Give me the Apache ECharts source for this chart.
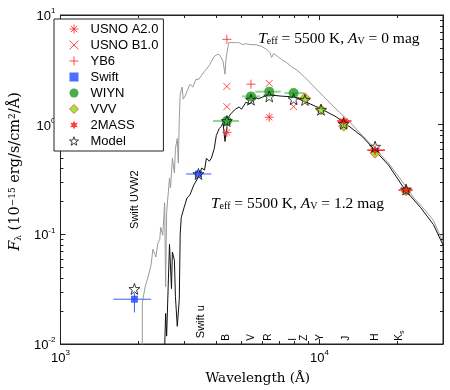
<!DOCTYPE html>
<html>
<head>
<meta charset="utf-8">
<script src="https://cdn.jsdelivr.net/npm/echarts@6/dist/echarts.min.js"></script>
<style>
  html, body { margin: 0; padding: 0; background: #fff; }
  #chart { width: 450px; height: 390px; }
</style>
</head>
<body>
<div id="chart"></div>
<script>
// model spectra, [wavelength (A), F_lambda]
const modelAv0 = [
  [2070, 0.0092], [2070, 0.024], [2124, 0.0333], [2180, 0.041], [2238, 0.0526], [2275, 0.0733],
  [2336, 0.0621], [2377, 0.083], [2418, 0.090], [2438, 0.116], [2483, 0.098], [2525, 0.194],
  [2547, 0.0333], [2570, 0.158], [2636, 0.327], [2660, 0.265], [2705, 0.494], [2754, 0.362],
  [2779, 0.608], [2825, 0.748], [2851, 0.446], [2876, 1.13], [2899, 1.90], [2951, 2.20],
  [2977, 1.71], [3029, 1.82], [3081, 2.02], [3162, 2.34], [3246, 2.20], [3333, 2.59],
  [3418, 2.59], [3508, 2.82], [3600, 3.07], [3661, 3.20], [3758, 3.47], [3826, 3.78],
  [3926, 4.19], [4027, 4.36], [4100, 4.36], [4171, 4.10], [4244, 3.78], [4318, 2.88],
  [4355, 3.94], [4435, 5.15], [4467, 5.60], [4550, 5.60], [4624, 5.71], [4749, 5.60],
  [4875, 5.60], [5047, 5.37], [5176, 5.48], [5408, 5.37], [5649, 5.37], [5847, 5.26],
  [5999, 5.15], [6267, 4.84], [6431, 4.55], [6541, 4.10], [6656, 4.46], [6890, 4.19],
  [7129, 3.94], [7450, 3.70], [7780, 3.40], [8200, 3.13], [8710, 2.76], [9490, 2.24],
  [10350, 1.82], [11590, 1.39], [13080, 1.06], [14640, 0.796], [16380, 0.608],
  [18480, 0.446], [20680, 0.313], [23160, 0.215], [25700, 0.164], [27540, 0.134], [30000, 0.085]
];
const modelAv12 = [
  [2525, 0.0092], [2547, 0.019], [2570, 0.0118], [2636, 0.081], [2683, 0.032], [2705, 0.069],
  [2754, 0.058], [2779, 0.027], [2825, 0.0145], [2876, 0.0254], [2899, 0.100], [2926, 0.142],
  [3000, 0.175], [3081, 0.215], [3162, 0.229], [3273, 0.282], [3360, 0.313], [3418, 0.340],
  [3508, 0.402], [3600, 0.386], [3661, 0.494], [3758, 0.464], [3826, 0.494], [3926, 0.608],
  [3997, 0.796], [4100, 0.92], [4171, 0.96], [4244, 1.04], [4318, 0.703], [4395, 0.96],
  [4467, 1.18], [4550, 1.26], [4749, 1.39], [4900, 1.45], [5000, 1.38], [5200, 1.60],
  [5400, 1.55], [5649, 1.79], [5800, 1.72], [6152, 1.82], [6541, 1.86], [7129, 1.82],
  [7980, 1.79], [8710, 1.64], [10180, 1.39], [11590, 1.18], [12640, 1.02], [14640, 0.78],
  [16380, 0.583], [18480, 0.428], [21420, 0.254], [24600, 0.175], [27540, 0.123], [30000, 0.080]
];

// photometry, [wavelength, flux]
const usnoA2 = [[4390, 0.85], [6400, 1.17]];
const usnoB1 = [[4390, 2.23], [4390, 1.46], [6400, 2.38], [7950, 1.46]];
const yb6 = [[4390, 6.0], [5440, 2.34]];
const swift = [[1930, 0.0256], [3410, 0.355]];
const wiyn = [[4390, 1.08], [5440, 1.81], [6400, 2.0], [7950, 1.94]];
const vvv = [[8790, 1.76], [10140, 1.37], [12400, 0.97], [16400, 0.55], [21600, 0.25]];
const twoMass = [[12400, 1.08], [16400, 0.585], [21600, 0.253]];
const model = [
  [1930, 0.0318], [3410, 0.355], [4390, 1.08], [5440, 1.69], [6400, 1.81], [7950, 1.71],
  [8790, 1.68], [10140, 1.37], [12400, 1.02], [16400, 0.63], [21600, 0.256]
];

// error bars, [wavelength, flux, wave low, wave high, flux low, flux high]
const swiftErr = [[1930, 0.0256, 1600, 2240, 0.0194, 0.029], [3410, 0.355, 3055, 3828, 0.355, 0.355]];
const wiynErr = [
  [4390, 1.08, 3880, 4890, 1.08, 1.08], [5440, 1.81, 5030, 5900, 1.81, 1.81],
  [6400, 2.0, 5650, 7090, 2.0, 2.0], [7950, 1.94, 7330, 8710, 1.94, 1.94]
];
const vvvErr = [[8790, 1.76, 8400, 9200, 1.76, 1.76]];
const twoMassErr = [
  [12400, 1.08, 11700, 13300, 1.08, 1.08], [16400, 0.585, 15300, 17900, 0.585, 0.585],
  [21600, 0.253, 20200, 22900, 0.253, 0.253]
];

// filter names along the bottom, [wavelength, flux of text foot]
const bandNames = ["B", "V", "R", "I", "Z", "Y", "J", "H", "{b|K}{bs|s}", "{w|Swift UVW2}", "{w|Swift u}"];
const bandPos = [
  [4375, 0.0107], [5433, 0.0107], [6340, 0.0107], [7940, 0.0107], [8730, 0.0107], [10090, 0.0107],
  [12650, 0.0107], [16400, 0.0107], [20300, 0.0107], [1947, 0.112], [3480, 0.0113]
];

// model labels
const noteTexts = [
  "{i|T}{sub|eff}{n| = 5500 K, }{i|A}{sub|V}{n| = 0 mag}",
  "{i|T}{sub|eff}{n| = 5500 K, }{i|A}{sub|V}{n| = 1.2 mag}"
];
const notePos = [[5800, 6.08], [3811, 0.19]];
const noteColors = ["#999999", "#000000"];

const xTickLabels = [1000, 10000];
const yTickLabels = [0.01, 0.1, 1, 10];

const SANS = "Liberation Sans";
const SERIF = "DejaVu Serif";
const NOTE_SERIF = "Liberation Serif";

const symAsterisk = "path://M0,-5L0,5M-5,0L5,0M-3.5,-3.5L3.5,3.5M-3.5,3.5L3.5,-3.5";
const symCross = "path://M-4,-4L4,4M-4,4L4,-4";
const symPlus = "path://M0,-5L0,5M-5,0L5,0";
const symStar5 = "path://M0,-10L2.35,-3.24L9.51,-3.09L3.8,1.24L5.88,8.09L0,4L-5.88,8.09L-3.8,1.24L-9.51,-3.09L-2.35,-3.24Z";
const symStar6 = "path://M0,-10L2.5,-4.33L8.66,-5L5,0L8.66,5L2.5,4.33L0,10L-2.5,4.33L-8.66,5L-5,0L-8.66,-5L-2.5,-4.33Z";

const RED = "#ff2020";
const strokeOnly = { color: "rgba(0,0,0,0)", borderColor: RED, borderWidth: 1 };

const powerLabel = v => {
  const e = Math.log10(v);
  if (Math.abs(e - Math.round(e)) > 1e-6) return "";
  return "{b|10}{s|" + Math.round(e) + "}";
};
const tickRich = {
  b: { fontFamily: SANS, fontSize: 13, color: "#000", padding: [3, 0, 0, 0] },
  s: { fontFamily: SANS, fontSize: 8, color: "#000", verticalAlign: "top" }
};

const errRender = (color, width) => (params, api) => {
  const x = api.value(0), y = api.value(1);
  const a = api.coord([api.value(2), y]), b = api.coord([api.value(3), y]);
  const c = api.coord([x, api.value(4)]), d = api.coord([x, api.value(5)]);
  return {
    type: "group",
    children: [
      { type: "line", shape: { x1: a[0], y1: a[1], x2: b[0], y2: b[1] }, style: { stroke: color, lineWidth: width } },
      { type: "line", shape: { x1: c[0], y1: c[1], x2: d[0], y2: d[1] }, style: { stroke: color, lineWidth: width } }
    ]
  };
};

const errSeries = (data, color, width) => ({
  type: "custom",
  data,
  encode: { x: 0, y: 1 },
  renderItem: errRender(color, width),
  silent: true,
  z: 3
});

// minor ticks of the log axes, drawn inward on all four sides
const minorTicks = (params, api) => {
  const cs = params.coordSys;
  const kids = [];
  const st = { stroke: "#222", lineWidth: 1 };
  for (let d = 1000; d < 30000; d *= 10) {
    for (let m = 2; m <= 9; m++) {
      const v = d * m;
      if (v >= 30000) break;
      const px = Math.round(api.coord([v, 1])[0]) + 0.5;
      kids.push({ type: "line", shape: { x1: px, y1: cs.y + cs.height, x2: px, y2: cs.y + cs.height - 3 }, style: st });
      kids.push({ type: "line", shape: { x1: px, y1: cs.y, x2: px, y2: cs.y + 3 }, style: st });
    }
  }
  for (let d = 0.01; d < 10; d *= 10) {
    for (let m = 2; m <= 9; m++) {
      const py = Math.round(api.coord([2000, d * m])[1]) + 0.5;
      kids.push({ type: "line", shape: { x1: cs.x, y1: py, x2: cs.x + 3, y2: py }, style: st });
      kids.push({ type: "line", shape: { x1: cs.x + cs.width, y1: py, x2: cs.x + cs.width - 3, y2: py }, style: st });
    }
  }
  return { type: "group", children: kids };
};

const textRich = color => ({
  n: { fontFamily: NOTE_SERIF, fontSize: 15.5, color },
  i: { fontFamily: NOTE_SERIF, fontStyle: "italic", fontSize: 15.5, color },
  sub: { fontFamily: NOTE_SERIF, fontSize: 10, color, verticalAlign: "bottom", padding: [6, 0, 0, 0] }
});

const chart = echarts.init(document.getElementById("chart"));

const xAxisBase = {
  type: "log",
  logBase: 10,
  min: 1000,
  max: 30000,
  axisLine: { lineStyle: { color: "#222", width: 1 } },
  axisTick: { inside: true, length: 5, lineStyle: { color: "#222" } },
  splitLine: { show: false }
};
const yAxisBase = {
  type: "log",
  logBase: 10,
  min: 0.01,
  max: 10,
  axisLine: { show: true, lineStyle: { color: "#222", width: 1 } },
  axisTick: { show: true, inside: true, length: 5, lineStyle: { color: "#222" } },
  splitLine: { show: false }
};

const option = {
  animation: false,
  backgroundColor: "#fff",
  grid: { left: 49, top: 15, width: 394, height: 334, show: true, borderColor: "#222", borderWidth: 1 },
  legend: {
    data: [
      { name: "USNO A2.0", itemStyle: strokeOnly },
      { name: "USNO B1.0", itemStyle: strokeOnly },
      { name: "YB6", itemStyle: strokeOnly },
      { name: "Swift", itemStyle: { color: "#1f4cff", borderWidth: 0 } },
      { name: "WIYN", itemStyle: { color: "#1e9a1e", borderWidth: 0 } },
      { name: "VVV", itemStyle: { color: "#7ee020", borderColor: "#ff5010", borderWidth: 1 } },
      { name: "2MASS", itemStyle: { color: "#ff1010", borderWidth: 0 } },
      { name: "Model", itemStyle: { color: "#ffffff", borderColor: "#111", borderWidth: 1 } }
    ],
    orient: "vertical",
    left: 54,
    top: 19,
    padding: [3, 5, 3, 15],
    itemWidth: 9,
    itemHeight: 9,
    itemGap: 2,
    backgroundColor: "#fff",
    borderColor: "#222",
    borderWidth: 1,
    borderRadius: 0,
    textStyle: { fontFamily: SANS, fontSize: 13, lineHeight: 14, color: "#000", padding: [0, 0, 0, 7] }
  },
  xAxis: [
    Object.assign({}, xAxisBase, {
      position: "bottom",
      axisLabel: {
        margin: 5,
        formatter: v => (xTickLabels.some(t => Math.abs(t - v) < 1e-6 * t) ? powerLabel(v) : ""),
        rich: tickRich
      },
      name: "Wavelength (Å)",
      nameLocation: "middle",
      nameGap: 27,
      nameTextStyle: { fontFamily: SERIF, fontSize: 13.5, color: "#000", padding: [0, 0, 0, 12] }
    }),
    Object.assign({}, xAxisBase, { position: "top", axisLabel: { show: false } })
  ],
  yAxis: [
    Object.assign({}, yAxisBase, {
      position: "left",
      axisLabel: {
        margin: 5,
        formatter: v => (yTickLabels.some(t => Math.abs(t - v) < 1e-6 * t) ? powerLabel(v) : ""),
        rich: tickRich
      },
      name: "{i|F}{sub|λ}{n| (10}{sup|−15}{n| erg/s/cm}{sup|2}{n|/Å)}",
      nameLocation: "middle",
      nameGap: 35,
      nameTextStyle: {
        padding: [0, 0, 0, 16],
        rich: {
          n: { fontFamily: SERIF, fontSize: 14.5, color: "#000" },
          i: { fontFamily: SERIF, fontStyle: "italic", fontSize: 14.5, color: "#000" },
          sub: { fontFamily: SERIF, fontSize: 9, color: "#000", verticalAlign: "bottom", padding: [5, 0, 0, 0] },
          sup: { fontFamily: SERIF, fontSize: 9, color: "#000", verticalAlign: "top", padding: [0, 0, 5, 0] }
        }
      }
    }),
    Object.assign({}, yAxisBase, { position: "right", axisLabel: { show: false } })
  ],
  series: [
    {
      name: "AV0", type: "line", data: modelAv0, showSymbol: false, symbol: "none",
      lineStyle: { color: "#9a9a9a", width: 1 }, silent: true, z: 1
    },
    {
      name: "AV12", type: "line", data: modelAv12, showSymbol: false, symbol: "none",
      lineStyle: { color: "#111", width: 1 }, silent: true, z: 1
    },
    { type: "custom", data: [[2000, 1]], encode: { x: 0, y: 1 }, renderItem: minorTicks, silent: true, z: 2 },
    errSeries(swiftErr, "#3a5cff", 1),
    errSeries(wiynErr, "#8fd48f", 2),
    errSeries(vvvErr, "#ff3030", 1),
    errSeries(twoMassErr, RED, 1.5),
    { name: "USNO A2.0", type: "scatter", data: usnoA2, symbol: symAsterisk, symbolSize: 9, itemStyle: strokeOnly, z: 4 },
    { name: "USNO B1.0", type: "scatter", data: usnoB1, symbol: symCross, symbolSize: 7, itemStyle: strokeOnly, z: 4 },
    { name: "YB6", type: "scatter", data: yb6, symbol: symPlus, symbolSize: 9, itemStyle: strokeOnly, z: 4 },
    {
      name: "Swift", type: "scatter", data: swift, symbol: "rect", symbolSize: 7,
      itemStyle: { color: "#1f4cff" }, z: 4
    },
    {
      name: "WIYN", type: "scatter", data: wiyn, symbol: "circle", symbolSize: 10,
      itemStyle: { color: "#1e9a1e" }, z: 4
    },
    {
      name: "VVV", type: "scatter", data: vvv, symbol: "diamond", symbolSize: 10,
      itemStyle: { color: "#7ee020", borderColor: "#ff5010", borderWidth: 1 }, z: 5
    },
    {
      name: "2MASS", type: "scatter", data: twoMass, symbol: symStar6, symbolSize: 10,
      itemStyle: { color: "#ff1010" }, z: 5
    },
    {
      name: "Model", type: "scatter", data: model, symbol: symStar5, symbolSize: 11,
      itemStyle: { color: "rgba(255,255,255,0)", borderColor: "#111", borderWidth: 1 }, z: 6
    },
    {
      type: "custom",
      data: bandPos.map((p, i) => [p[0], p[1], i]),
      encode: { x: 0, y: 1 },
      silent: true,
      z: 7,
      renderItem: (params, api) => {
        const p = api.coord([api.value(0), api.value(1)]);
        return {
          type: "text",
          x: p[0],
          y: p[1],
          rotation: Math.PI / 2,
          style: {
            text: bandNames[api.value(2)],
            fontFamily: SANS,
            fontSize: 10,
            fill: "#000",
            align: "left",
            verticalAlign: "middle",
            rich: {
              b: { fontFamily: SANS, fontSize: 10, color: "#000" },
              bs: { fontFamily: SANS, fontSize: 7, color: "#000", verticalAlign: "bottom", padding: [5, 0, 0, 0] },
              w: { fontFamily: SANS, fontSize: 11, color: "#000" }
            }
          }
        };
      }
    },
    {
      type: "custom",
      data: notePos.map((p, i) => [p[0], p[1], i]),
      encode: { x: 0, y: 1 },
      silent: true,
      z: 7,
      renderItem: (params, api) => {
        const p = api.coord([api.value(0), api.value(1)]);
        const i = api.value(2);
        return {
          type: "text",
          x: p[0],
          y: p[1],
          style: {
            text: noteTexts[i],
            align: "left",
            verticalAlign: "middle",
            rich: textRich(noteColors[i])
          }
        };
      }
    }
  ]
};

chart.setOption(option);
</script>
</body>
</html>
